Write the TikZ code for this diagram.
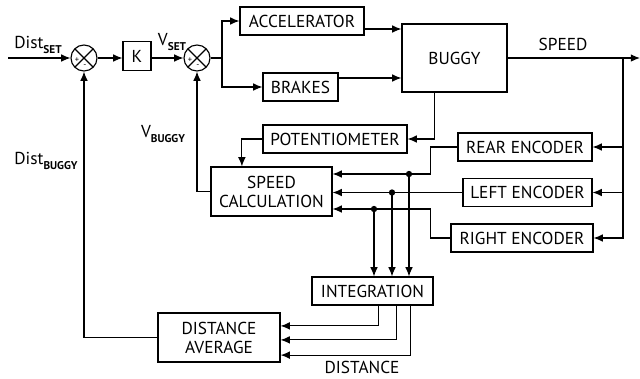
\documentclass[tikz,border=0pt]{standalone}
\usepackage{fontspec}
\setmainfont{PT Sans}
\usetikzlibrary{calc,arrows.meta}
\tikzset{
	bloc/.style={draw,line width=0.8pt,minimum height=0.7cm,inner sep=1pt,align=center},
	somme/.style={draw,circle,line width=0.8pt,minimum size=0.65cm,inner sep=0pt,
		path picture={\draw (path picture bounding box.north west) -- (path picture bounding box.south east)
			(path picture bounding box.north east) -- (path picture bounding box.south west);}},
	lien/.style={line width=0.8pt},
	point/.style={circle,fill,inner sep=0pt,minimum size=4.5pt}
}
\newcommand{\indice}[1]{\raisebox{-0.5ex}{\fontsize{8}{8}\selectfont\bfseries #1}}
\begin{document}
\begin{tikzpicture}[x=0.025cm,y=-0.025cm,>={Latex[length=2.3mm,width=1.9mm]},font=\fontsize{12.3}{13.5}\selectfont]
		\useasboundingbox (0,0) rectangle (640,378);
		
		% Comparateurs et gain
		\node[somme] (s1) at (84,58) {};
		\node[somme] (s2) at (197,58) {};
		\node[font=\fontsize{6}{6}\selectfont] at (77,60) {+};
		\node[font=\fontsize{6}{6}\selectfont] at (85,66) {-};
		\node[font=\fontsize{6}{6}\selectfont] at (190,60) {+};
		\node[font=\fontsize{6}{6}\selectfont] at (198,66) {-};
		\node[bloc,minimum width=0.7cm,minimum height=0.72cm] (K) at (137,56) {K};
		
		% Blocs
		\node[bloc,minimum width=3.1cm] (acc) at (302,21) {ACCELERATOR};
		\node[bloc,minimum width=1.875cm] (brk) at (300.5,87) {BRAKES};
		\node[bloc,minimum width=2.625cm,minimum height=1.7cm] (bug) at (454.5,58) {BUGGY};
		\node[bloc,minimum width=3.6cm] (pot) at (335,139) {POTENTIOMETER};
		\node[bloc,minimum width=3.025cm,minimum height=1.225cm] (calc) at (271.5,191.5) {SPEED\\CALCULATION};
		\node[bloc,minimum width=3.35cm] (rear) at (525,147) {REAR ENCODER};
		\node[bloc,minimum width=3.225cm] (left) at (527.5,192.5) {LEFT ENCODER};
		\node[bloc,minimum width=3.55cm] (right) at (522,238) {RIGHT ENCODER};
		\node[bloc,minimum width=3.025cm] (integ) at (372.5,291) {INTEGRATION};
		\node[bloc,minimum width=3.05cm,minimum height=1.225cm] (avg) at (219,337.5) {DISTANCE\\AVERAGE};
		
		% Textes
		\node (tdset) at (38,45) {Dist\indice{SET}};
		\node (tvset) at (172,42) {V\indice{SET}};
		\node (tvbug) at (163,134) {V\indice{BUGGY}};
		\node (tdbug) at (46,161) {Dist\indice{BUGGY}};
		\node (tspeed) at (563,44) {SPEED};
		\node (tdist) at (362,367) {DISTANCE};
		
		\coordinate (in) at (8,58);
		\coordinate (out) at (640,58);
		\coordinate (br) at (222,58);
		\coordinate (fb) at (623,58);
		
		% Chaine directe
		\draw[lien,->] (in) -- (s1.west);
		\draw[lien,->] (s1.east) -- (K.west |- s1.east);
		\draw[lien,->] (K.east |- s2.west) -- (s2.west);
		\draw[lien] (s2.east) -- (br);
		\draw[lien,->] (br) |- (acc.west);
		\draw[lien,->] (br) |- (brk.west);
		\draw[lien,->] ([yshift=-0.2cm]acc.east) -- ([yshift=-0.2cm]acc.east -| bug.west);
		\draw[lien,->] ([yshift=0.225cm]brk.east) -- ([yshift=0.225cm]brk.east -| bug.west);
		\draw[lien,->] (bug.east) -- (out);
		
		% Retour capteurs
		\foreach \e in {rear,left,right}
			\draw[lien,->] (fb) |- (\e.east);
		\draw[lien,->] ([xshift=-0.49cm]bug.south) |- (pot.east);
		\draw[lien,->] (pot.west) -| ([xshift=-0.74cm]calc.north);
		\draw[lien,->] (calc.west) -| (s2.south);
		
		\draw[lien,->] (rear.west) -- ++(-27,0) |- ([yshift=0.4375cm]calc.east);
		\draw[lien,->] (left.west) -- (left.west -| calc.east);
		\draw[lien,->] (right.west) -- ++(-20,0) |- ([yshift=-0.4375cm]calc.east);
		
		% Derivations vers l'integration
		\node[point] (d1) at (409,174) {};
		\node[point] (d2) at (392,192.5) {};
		\node[point] (d3) at (374,209) {};
		\foreach \d in {d1,d2,d3}
			\draw[lien,->] (\d.center) -- (\d.center |- integ.north);
		
		% Distances
		\draw[lien,->] ([xshift=0.16cm]integ.south) |- ([yshift=0.29cm]avg.east);
		\draw[lien,->] ([xshift=0.59cm]integ.south) |- ([yshift=-0.06cm]avg.east);
		\draw[lien,->] ([xshift=0.94cm]integ.south) |- ([yshift=-0.44cm]avg.east);
		\draw[lien,->] (avg.west) -| (s1.south);
		
		\end{tikzpicture}
\end{document}
